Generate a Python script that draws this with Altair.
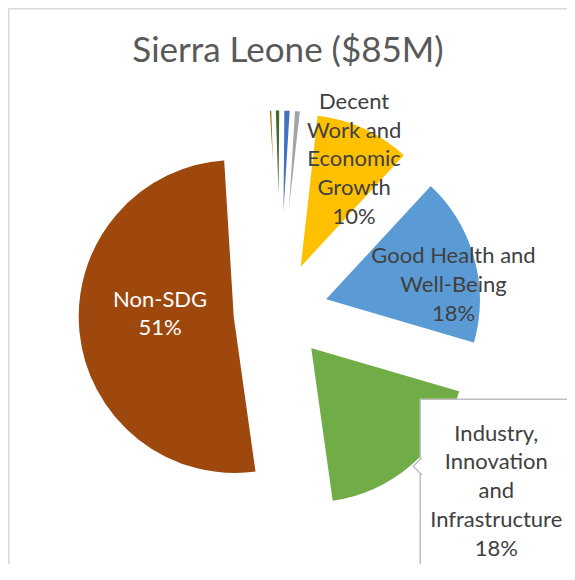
import math
import altair as alt
import pandas as pd

# ---- data ----
categories = [
    "Decent Work and Economic Growth",
    "Good Health and Well-Being",
    "Industry, Innovation and Infrastructure",
    "Non-SDG",
    "Other SDG A",
    "Other SDG B",
    "Other SDG C",
    "Other SDG D",
]
shares = [10.1, 17.65, 18.25, 51.25, 0.45, 0.65, 0.85, 0.8]
wrapped = [
    "Decent\nWork and\nEconomic\nGrowth",
    "Good Health and\nWell-Being",
    "Industry,\nInnovation\nand\nInfrastructure",
    "Non-SDG",
    "", "", "", "",
]
colors = ["#FFC000", "#5B9BD5", "#70AD47", "#9E480E",
          "#997300", "#43682B", "#4472C4", "#A5A5A5"]
title_text = "Sierra Leone ($85M)"

df = pd.DataFrame({
    "idx": list(range(len(categories))),
    "category": categories,
    "share": shares,
    "wrapped": wrapped,
})

# ---- layout / style ----
W, H = 559, 556
CX, CY = 272, 304          # pie centre (plot px)
EXPLODE = 45               # explosion distance
R = 158                    # pie radius
START = math.radians(6.4)  # angle of first slice
TOTAL = sum(shares)
FONT = "Lato"
LINE_H = 28.8

# label placement: (distance from slice apex, angle offset in degrees)
label_place = {
    "Decent Work and Economic Growth": (124.6, 1.8),
    "Good Health and Well-Being": (131.0, 8.9),
    "Industry, Innovation and Infrastructure": (236.6, -11.3),
    "Non-SDG": (75.2, 7.6),
}


def by_cat(idx):
    expr = "0"
    for k, v in label_place.items():
        expr = f"datum.category === '{k}' ? {v[idx]} : ({expr})"
    return expr


base = (
    alt.Chart(df)
    .transform_joinaggregate(total="sum(share)")
    .transform_window(cum="sum(share)", sort=[alt.SortField("idx")], frame=[None, 0])
    .transform_calculate(mid=f"{START} + 2*PI*(datum.cum - datum.share/2)/datum.total")
    .transform_calculate(
        ax=f"{CX} + {EXPLODE}*sin(datum.mid)",
        ay=f"{CY} - {EXPLODE}*cos(datum.mid)",
    )
)

arcs = base.mark_arc(radius=R, stroke="white", strokeWidth=3).encode(
    theta=alt.Theta("share:Q", stack=True,
                    scale=alt.Scale(domain=[0, TOTAL], range=[START, START + 2 * math.pi], nice=False)),
    order=alt.Order("idx:Q"),
    color=alt.Color("category:N", scale=alt.Scale(domain=categories, range=colors), legend=None),
    x=alt.X("ax:Q", scale=None, axis=None),
    y=alt.Y("ay:Q", scale=None, axis=None),
)

lab = (
    base.transform_filter("datum.wrapped != ''")
    .transform_calculate(lr=by_cat(0), dth=by_cat(1))
    .transform_calculate(la="datum.mid + datum.dth*PI/180")
    .transform_calculate(
        lx="datum.ax + datum.lr*sin(datum.la)",
        ly="datum.ay - datum.lr*cos(datum.la)",
        label="datum.wrapped + '\\n' + format(datum.share/datum.total, '.0%')",
        tcolor="datum.category === 'Non-SDG' ? '#FFFFFF' : '#404040'",
    )
    .transform_calculate(nl="length(split(datum.label, '\\n'))")
    .transform_calculate(ly0=f"datum.ly - (datum.nl - 1)/2*{LINE_H}")
)

ind = lab.transform_filter("datum.category === 'Industry, Innovation and Infrastructure'")

box = ind.transform_calculate(
    bx1="datum.lx - 76", bx2="datum.lx + 76", by1="datum.ly - 92", by2="datum.ly + 110"
).mark_rect(fill="white", stroke="#BFBFBF", strokeWidth=1.5).encode(
    x=alt.X("bx1:Q", scale=None, axis=None), x2="bx2:Q",
    y=alt.Y("by1:Q", scale=None, axis=None), y2="by2:Q",
)

pointer = ind.transform_calculate(px="datum.lx - 79.6", py="datum.ly - 25").mark_point(
    shape="M0.6,-1L-0.4,0L0.6,1", size=289, filled=True, fill="white",
    stroke="#BFBFBF", strokeWidth=1.5, opacity=1,
).encode(
    x=alt.X("px:Q", scale=None, axis=None),
    y=alt.Y("py:Q", scale=None, axis=None),
)

labels = lab.mark_text(
    font=FONT, fontSize=22, lineHeight=LINE_H, lineBreak="\n",
    align="center", baseline="middle",
).encode(
    x=alt.X("lx:Q", scale=None, axis=None),
    y=alt.Y("ly0:Q", scale=None, axis=None),
    text="label:N",
    color=alt.Color("tcolor:N", scale=None),
)

one = alt.Chart(alt.Data(values=[{"t": title_text}]))
title = one.mark_text(font=FONT, fontSize=35, color="#595959", align="center",
                      baseline="alphabetic").encode(
    x=alt.value(280), y=alt.value(54), text="t:N")

frame_left = one.mark_rule(color="#D9D9D9", strokeWidth=1.5).encode(
    x=alt.value(0.75), y=alt.value(0), y2=alt.value(H))
frame_top = one.mark_rule(color="#D9D9D9", strokeWidth=1.5).encode(
    y=alt.value(0.75), x=alt.value(0), x2=alt.value(W))

chart = alt.layer(arcs, box, pointer, labels, title, frame_left, frame_top).properties(
    width=W, height=H,
    autosize=alt.AutoSizeParams(type="none"),
    padding=0,
    background="white",
).configure_view(stroke=None)

chart.save("out.html", embed_options={"renderer": "svg", "actions": False})
